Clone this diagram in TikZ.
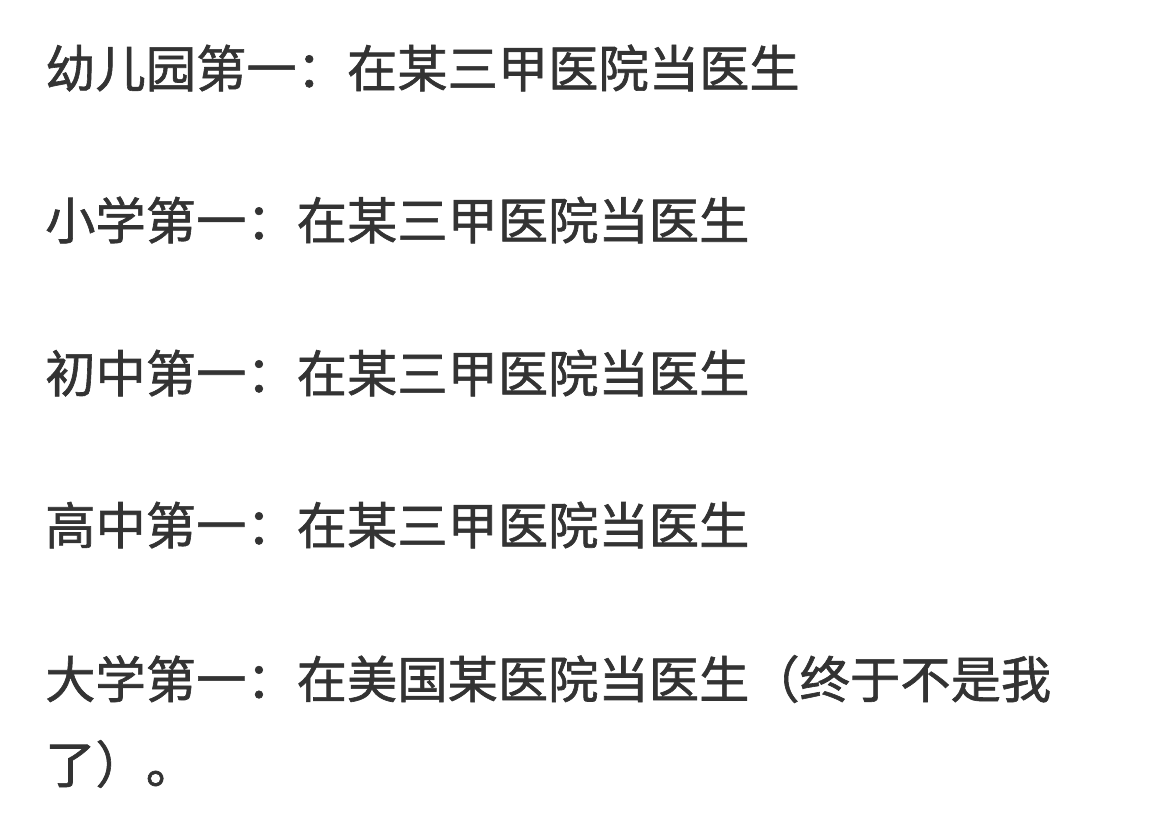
\documentclass[tikz,border=0pt]{standalone}
\usepackage{fontspec}
\newfontfamily\cjk[FakeBold=1.2]{Noto Sans CJK SC}
\definecolor{txt}{HTML}{333333}
\begin{document}
\begin{tikzpicture}[x=1pt,y=-1pt,
  line/.style={anchor=west,inner sep=0pt,text=txt,font=\cjk\fontsize{50.3}{60}\selectfont}]
\useasboundingbox[fill=white] (0,0) rectangle (1166,818);
\node[line] (l1) at (45,68) {幼儿园第一：在某三甲医院当医生};
\node[line] (l2) at (45,220) {小学第一：在某三甲医院当医生};
\node[line] (l3) at (45,373) {初中第一：在某三甲医院当医生};
\node[line] (l4) at (45,525) {高中第一：在某三甲医院当医生};
\node[line] (l5) at (45,679) {大学第一：在美国某医院当医生（终于不是我};
\node[line] (l6) at (45,764) {了）。};
\end{tikzpicture}
\end{document}
